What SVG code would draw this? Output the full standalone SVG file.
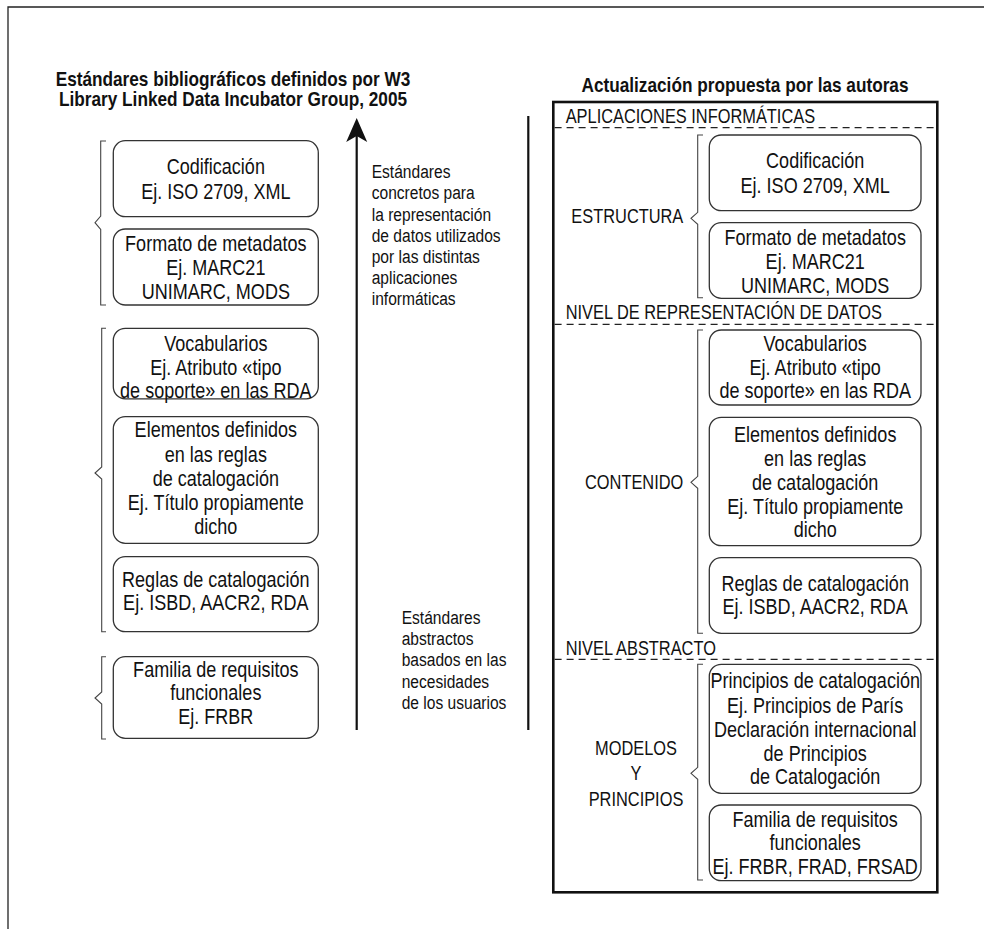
<svg xmlns="http://www.w3.org/2000/svg" width="984" height="929" viewBox="0 0 984 929">
<style>
text{font-family:"Liberation Sans",Arial,sans-serif;fill:#111}
.t{font-size:21px;font-weight:bold;text-anchor:middle}
.b{font-size:22px;text-anchor:middle}
.m{font-size:19px}
.l{font-size:20px}
.box{fill:#fff;stroke:#333;stroke-width:1.3}
.br{fill:none;stroke:#444;stroke-width:1.1}
.dash{stroke:#222;stroke-width:1.2;stroke-dasharray:7 5}
</style>
<defs>
<marker id="ah" viewBox="0 -11 24 22" refX="17" refY="0" markerWidth="24" markerHeight="22" markerUnits="userSpaceOnUse" orient="auto"><path d="M0 -10.5 L24 0 L0 10.5 L6 0 Z" fill="#111"/></marker>
</defs>
<g id="frame" fill="none" stroke="#222" stroke-width="1.3">
<path d="M8 929 V7 H984"/>
</g>
<g id="titles" class="t">
<g transform="translate(233 0) scale(0.82 1)"><text x="0" y="86">Estándares bibliográficos definidos por W3</text><text x="0" y="106">Library Linked Data Incubator Group, 2005</text></g>
<g transform="translate(745 0) scale(0.82 1)"><text x="0" y="92">Actualización propuesta por las autoras</text></g>
</g>
<g id="connectors">
<line x1="356.7" y1="730" x2="356.7" y2="125" stroke="#111" stroke-width="2.2" marker-end="url(#ah)"/>
<line x1="528.3" y1="116" x2="528.3" y2="730" stroke="#111" stroke-width="2.2"/>
<path class="br" d="M106 141 H100.7 V216 L95 222.7 L100.7 229.4 V305 H106"/>
<path class="br" d="M106 328.3 H101.7 V467 L95 473 L101.7 479 V631.7 H106"/>
<path class="br" d="M106 656.7 H101.7 V692 L95 698 L101.7 704 V739 H106"/>
<path class="br" d="M703 135 H697.7 V212.3 L691 218.3 L697.7 224.3 V297.7 H703"/>
<path class="br" d="M703 330 H697.7 V476.3 L691 482.3 L697.7 488.3 V633.3 H703"/>
<path class="br" d="M703 664.3 H697.7 V767.3 L691 773.3 L697.7 779.3 V880 H703"/>
</g>
<g id="midtext-concretos" class="m" transform="translate(371.7 0) scale(0.82 1)">
<text x="0" y="178.3">Estándares</text>
<text x="0" y="199.5">concretos para</text>
<text x="0" y="220.7">la representación</text>
<text x="0" y="241.9">de datos utilizados</text>
<text x="0" y="263.1">por las distintas</text>
<text x="0" y="284.3">aplicaciones</text>
<text x="0" y="305.5">informáticas</text>
</g>
<g id="midtext-abstractos" class="m" transform="translate(401.7 0) scale(0.82 1)">
<text x="0" y="624">Estándares</text>
<text x="0" y="645.2">abstractos</text>
<text x="0" y="666.4">basados en las</text>
<text x="0" y="687.6">necesidades</text>
<text x="0" y="708.8">de los usuarios</text>
</g>
<g id="L-codificacion">
<rect class="box" x="113.3" y="140.7" width="205" height="76" rx="12"/>
<g class="b" transform="translate(215.8 0) scale(0.82 1)">
<text x="0" y="174.3">Codificación</text>
<text x="0" y="199.5">Ej. ISO 2709, XML</text>
</g></g>
<g id="L-formato">
<rect class="box" x="113.3" y="229" width="205" height="76" rx="12"/>
<g class="b" transform="translate(215.8 0) scale(0.82 1)">
<text x="0" y="250.7">Formato de metadatos</text>
<text x="0" y="275">Ej. MARC21</text>
<text x="0" y="299.3">UNIMARC, MODS</text>
</g></g>
<g id="L-vocabularios">
<rect class="box" x="113.3" y="328.3" width="205" height="70.5" rx="12"/>
<g class="b" transform="translate(215.8 0) scale(0.82 1)">
<text x="0" y="350.7">Vocabularios</text>
<text x="0" y="375">Ej. Atributo «tipo</text>
<text x="0" y="398">de soporte» en las RDA</text>
</g></g>
<g id="L-elementos">
<rect class="box" x="113.3" y="416.7" width="205" height="126.6" rx="12"/>
<g class="b" transform="translate(215.8 0) scale(0.82 1)">
<text x="0" y="437.3">Elementos definidos</text>
<text x="0" y="461.7">en las reglas</text>
<text x="0" y="485.7">de catalogación</text>
<text x="0" y="510">Ej. Título propiamente</text>
<text x="0" y="534">dicho</text>
</g></g>
<g id="L-reglas">
<rect class="box" x="113.3" y="556.7" width="205" height="75" rx="12"/>
<g class="b" transform="translate(215.8 0) scale(0.82 1)">
<text x="0" y="586.7">Reglas de catalogación</text>
<text x="0" y="610.5">Ej. ISBD, AACR2, RDA</text>
</g></g>
<g id="L-familia">
<rect class="box" x="113.3" y="656.7" width="205" height="81.6" rx="12"/>
<g class="b" transform="translate(215.8 0) scale(0.82 1)">
<text x="0" y="676.7">Familia de requisitos</text>
<text x="0" y="700.5">funcionales</text>
<text x="0" y="724">Ej. FRBR</text>
</g></g>
<g id="R-panel">
<rect x="553.3" y="102" width="384" height="790.3" fill="none" stroke="#111" stroke-width="2.6"/>
<line class="dash" x1="554.6" y1="127.7" x2="936" y2="127.7"/>
<line class="dash" x1="554.6" y1="324.3" x2="936" y2="324.3"/>
<line class="dash" x1="554.6" y1="659.3" x2="936" y2="659.3"/>
<g class="l" transform="translate(565.7 0) scale(0.82 1)">
<text x="0" y="123.3">APLICACIONES INFORMÁTICAS</text>
<text x="0" y="319.3">NIVEL DE REPRESENTACIÓN DE DATOS</text>
<text x="0" y="654.8">NIVEL ABSTRACTO</text>
</g>
<g class="l" transform="translate(683.3 0) scale(0.82 1)" text-anchor="end">
<text x="0" y="223.3">ESTRUCTURA</text>
<text x="0" y="489">CONTENIDO</text>
</g>
<g class="l" transform="translate(636 0) scale(0.82 1)" text-anchor="middle">
<text x="0" y="755">MODELOS</text>
<text x="0" y="780.3">Y</text>
<text x="0" y="805.7">PRINCIPIOS</text>
</g>
</g>
<g id="R-codificacion">
<rect class="box" x="709.3" y="135" width="211.7" height="75.7" rx="12"/>
<g class="b" transform="translate(815.2 0) scale(0.82 1)">
<text x="0" y="168.3">Codificación</text>
<text x="0" y="193.3">Ej. ISO 2709, XML</text>
</g></g>
<g id="R-formato">
<rect class="box" x="709.3" y="222.7" width="211.7" height="75.6" rx="12"/>
<g class="b" transform="translate(815.2 0) scale(0.82 1)">
<text x="0" y="245">Formato de metadatos</text>
<text x="0" y="269.3">Ej. MARC21</text>
<text x="0" y="293.3">UNIMARC, MODS</text>
</g></g>
<g id="R-vocabularios">
<rect class="box" x="709.3" y="330" width="211.7" height="75" rx="12"/>
<g class="b" transform="translate(815.2 0) scale(0.82 1)">
<text x="0" y="350.7">Vocabularios</text>
<text x="0" y="375">Ej. Atributo «tipo</text>
<text x="0" y="398.3">de soporte» en las RDA</text>
</g></g>
<g id="R-elementos">
<rect class="box" x="709.3" y="417.3" width="211.7" height="128.4" rx="12"/>
<g class="b" transform="translate(815.2 0) scale(0.82 1)">
<text x="0" y="441.7">Elementos definidos</text>
<text x="0" y="465.7">en las reglas</text>
<text x="0" y="490">de catalogación</text>
<text x="0" y="513.8">Ej. Título propiamente</text>
<text x="0" y="537.5">dicho</text>
</g></g>
<g id="R-reglas">
<rect class="box" x="709.3" y="557.7" width="211.7" height="75.6" rx="12"/>
<g class="b" transform="translate(815.2 0) scale(0.82 1)">
<text x="0" y="590.7">Reglas de catalogación</text>
<text x="0" y="614.3">Ej. ISBD, AACR2, RDA</text>
</g></g>
<g id="R-principios">
<rect class="box" x="709.3" y="664.3" width="211.7" height="129" rx="12"/>
<g class="b" transform="translate(815.2 0) scale(0.82 1)">
<text x="0" y="688.3">Principios de catalogación</text>
<text x="0" y="712.7">Ej. Principios de París</text>
<text x="0" y="736.7">Declaración internacional</text>
<text x="0" y="760.7">de Principios</text>
<text x="0" y="784.5">de Catalogación</text>
</g></g>
<g id="R-familia">
<rect class="box" x="709.3" y="805" width="211.7" height="75.7" rx="12"/>
<g class="b" transform="translate(815.2 0) scale(0.82 1)">
<text x="0" y="826.7">Familia de requisitos</text>
<text x="0" y="850.3">funcionales</text>
<text x="0" y="873.8">Ej. FRBR, FRAD, FRSAD</text>
</g></g>
</svg>
